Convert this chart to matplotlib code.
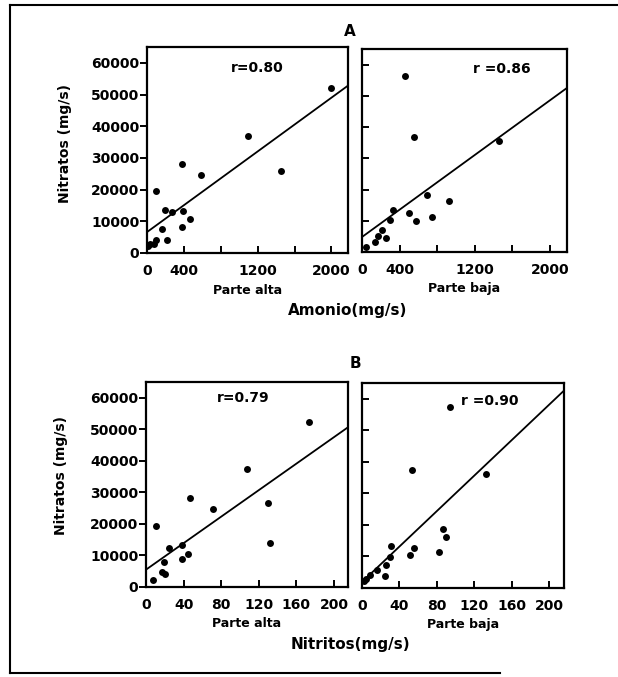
import numpy as np
import matplotlib
matplotlib.use("Agg")
import matplotlib.pyplot as plt
from matplotlib.lines import Line2D

# =========================
# Data
# =========================
# A: Amonio (mg/s) vs Nitratos (mg/s)
amonio_alta = [2000, 1100, 1450, 380, 590, 100, 200, 270, 390, 470, 380, 165, 215, 100, 80, 30, 10]
nitratos_a_alta = [52000, 37000, 26000, 28000, 24500, 19500, 13500, 12800, 13400, 10700,
                   8200, 7600, 4200, 4200, 2800, 2900, 2300]

amonio_baja = [460, 550, 1460, 690, 920, 330, 505, 575, 745, 300, 210, 250, 175, 135, 45]
nitratos_a_baja = [56500, 36700, 35500, 18300, 16300, 13500, 12500, 9800, 11300, 10200,
                   7100, 4500, 5200, 3200, 1500]

# B: Nitritos (mg/s) vs Nitratos (mg/s)
nitritos_alta = [173, 107, 130, 132, 71, 47, 10.5, 38.6, 24.6, 44.6, 38.6, 19, 17.5, 20, 7.7]
nitratos_b_alta = [52300, 37500, 26500, 13800, 24800, 28200, 19500, 13400, 12400, 10500,
                   9000, 7800, 4700, 4100, 2300]

nitritos_baja = [94, 53, 133, 87, 90, 82, 56, 51, 31, 29.5, 26, 25, 15.6, 8.4, 4, 2]
nitratos_b_baja = [57400, 37300, 36100, 18800, 16300, 11300, 12700, 10500, 13400, 9900,
                   7400, 3800, 5800, 4000, 2900, 2100]

# regression lines: (intercept, slope)
fit_a_alta = (6600, 21.2)
fit_a_baja = (4800, 21.9)
fit_b_alta = (5500, 210)
fit_b_baja = (1900, 281)

r_labels = ["r=0.80", "r =0.86", "r=0.79", "r =0.90"]
y_ticks = [0, 10000, 20000, 30000, 40000, 50000, 60000]
x_ticks_a = [0, 400, 800, 1200, 1600, 2000]
x_ticklabels_a = ["0", "400", "", "1200", "", "2000"]
x_ticks_b = [0, 40, 80, 120, 160, 200]

# =========================
# Figure
# =========================
W, H = 618, 677
fig = plt.figure(figsize=(W / 100, H / 100), dpi=100)
plt.rcParams["font.family"] = ["DejaVu Sans"]
FW = "bold"


def box(left, right, top, bottom):
    return [left / W, 1 - bottom / H, (right - left) / W, (bottom - top) / H]


panels = [
    dict(pos=box(147, 348, 47, 253), x=amonio_alta, y=nitratos_a_alta, fit=fit_a_alta,
         xlim=2180, xt=x_ticks_a, xtl=x_ticklabels_a, part="Parte alta", left=True,
         r=r_labels[0], rpos=(0.55, 0.90)),
    dict(pos=box(362, 567, 49, 252), x=amonio_baja, y=nitratos_a_baja, fit=fit_a_baja,
         xlim=2180, xt=x_ticks_a, xtl=x_ticklabels_a, part="Parte baja", left=False,
         r=r_labels[1], rpos=(0.68, 0.90)),
    dict(pos=box(146, 348, 382, 587), x=nitritos_alta, y=nitratos_b_alta, fit=fit_b_alta,
         xlim=215, xt=x_ticks_b, xtl=[str(t) for t in x_ticks_b], part="Parte alta", left=True,
         r=r_labels[2], rpos=(0.48, 0.92)),
    dict(pos=box(362, 564, 383, 588), x=nitritos_baja, y=nitratos_b_baja, fit=fit_b_baja,
         xlim=216, xt=x_ticks_b, xtl=[str(t) for t in x_ticks_b], part="Parte baja", left=False,
         r=r_labels[3], rpos=(0.63, 0.91)),
]

for p in panels:
    ax = fig.add_axes(p["pos"])
    ax.plot(p["x"], p["y"], "o", color="black", markersize=5, markeredgewidth=0)

    xs = np.array([0, p["xlim"]])
    b0, b1 = p["fit"]
    ax.plot(xs, b0 + b1 * xs, color="black", linewidth=1.3)

    ax.set_xlim(0, p["xlim"])
    ax.set_ylim(0, 65000)

    for s in ax.spines.values():
        s.set_linewidth(1.6)

    ax.set_xticks(p["xt"])
    ax.set_xticklabels(p["xtl"], fontsize=10, fontweight=FW)
    ax.tick_params(axis="x", direction="in", length=5, width=1.4, pad=8)

    ax.set_yticks(y_ticks)
    if p["left"]:
        ax.set_yticklabels([str(t) for t in y_ticks], fontsize=10, fontweight=FW)
        ax.tick_params(axis="y", direction="out", length=5, width=1.4, pad=0.5)
        ax.set_ylabel("Nitratos (mg/s)", fontsize=10, fontweight=FW)
    else:
        ax.set_yticklabels([])
        ax.tick_params(axis="y", direction="in", length=5, width=1.4)

    ax.text(0.5, -0.18, p["part"], transform=ax.transAxes, ha="center", va="center",
            fontsize=9, fontweight=FW)
    ax.text(p["rpos"][0], p["rpos"][1], p["r"], transform=ax.transAxes,
            ha="center", va="center", fontsize=10, fontweight=FW)

fig.axes[0].yaxis.set_label_coords(-0.373, 0.53)
fig.axes[2].yaxis.set_label_coords(-0.386, 0.546)

# =========================
# Panel letters and shared axis titles
# =========================
fig.text(350 / W, 1 - 32 / H, "A", ha="center", va="center", fontsize=11, fontweight=FW)
fig.text(355 / W, 1 - 363 / H, "B", ha="center", va="center", fontsize=11, fontweight=FW)
fig.text(348 / W, 1 - 311 / H, "Amonio(mg/s)", ha="center", va="center", fontsize=11, fontweight=FW)
fig.text(350 / W, 1 - 645 / H, "Nitritos(mg/s)", ha="center", va="center", fontsize=11, fontweight=FW)

# outer frame (top, left, bottom)
for xx, yy in [([10, W], [5, 5]), ([10, 10], [5, 673]), ([10, 500], [673, 673])]:
    fig.add_artist(Line2D(np.array(xx) / W, 1 - np.array(yy) / H, color="black", linewidth=1.5))

plt.savefig("out.png", dpi=100)
plt.close(fig)
